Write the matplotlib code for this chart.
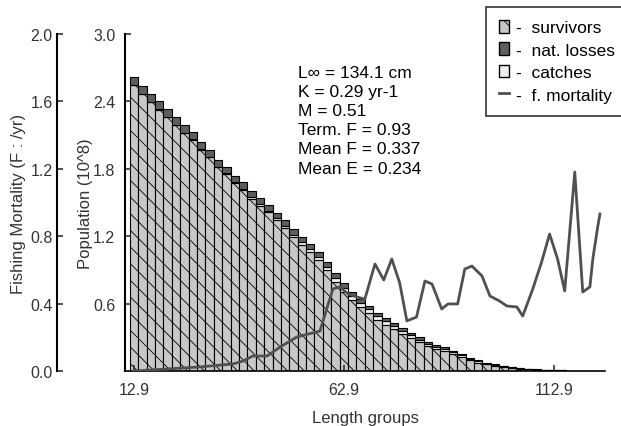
import numpy as np
import matplotlib
matplotlib.use("Agg")
import matplotlib.pyplot as plt
import matplotlib.patches as mpatches
from matplotlib.lines import Line2D

plt.rcParams['font.family'] = ['Liberation Sans', 'DejaVu Sans']
plt.rcParams['hatch.linewidth'] = 0.6

# length classes (cm), 2 cm bins
length = [12.9 + 2 * i for i in range(52)]

# population (10^8) per class
survivors = [2.544, 2.465, 2.396, 2.327, 2.257, 2.189, 2.119, 2.060, 1.971, 1.901,
             1.812, 1.752, 1.673, 1.613, 1.533, 1.472, 1.412, 1.341, 1.271, 1.190,
             1.120, 1.059, 0.989, 0.898, 0.795, 0.704, 0.628, 0.572, 0.515, 0.458,
             0.412, 0.375, 0.329, 0.293, 0.257, 0.221, 0.194, 0.178, 0.151, 0.125,
             0.098, 0.075, 0.058, 0.045, 0.035, 0.027, 0.021, 0.015, 0.010, 0.008,
             0.005, 0.005]
catches = [0.001, 0.001, 0.002, 0.002, 0.003, 0.003, 0.004, 0.004, 0.005, 0.006,
           0.007, 0.008, 0.009, 0.010, 0.012, 0.014, 0.016, 0.018, 0.020, 0.022,
           0.024, 0.026, 0.028, 0.030, 0.035, 0.038, 0.036, 0.034, 0.033, 0.032,
           0.030, 0.029, 0.027, 0.025, 0.023, 0.021, 0.019, 0.017, 0.015, 0.013,
           0.011, 0.010, 0.008, 0.007, 0.006, 0.005, 0.004, 0.003, 0.003, 0.002,
           0.002, 0.001]
nat_losses = [0.075, 0.074, 0.072, 0.071, 0.070, 0.068, 0.067, 0.066, 0.064, 0.063,
              0.061, 0.060, 0.058, 0.057, 0.055, 0.054, 0.052, 0.051, 0.049, 0.048,
              0.046, 0.045, 0.043, 0.042, 0.040, 0.038, 0.036, 0.034, 0.032, 0.030,
              0.028, 0.026, 0.024, 0.022, 0.020, 0.018, 0.017, 0.015, 0.014, 0.012,
              0.011, 0.010, 0.009, 0.008, 0.007, 0.006, 0.005, 0.004, 0.004, 0.003,
              0.003, 0.002]

# fishing mortality curve (F /yr)
f_len = [12.9, 28.6, 36.5, 38.9, 41.2, 44.6, 47.7, 51.7, 57.2, 58.8, 60.3, 61.9,
         63.6, 66.0, 67.9, 70.3, 72.4, 74.3, 76.2, 77.9, 80.2, 82.2, 83.9, 86.2,
         87.7, 90.0, 91.7, 93.4, 95.8, 97.7, 100.0, 101.7, 104.1, 105.5, 107.9,
         110.0, 111.9, 113.8, 115.5, 117.9, 119.8, 121.5, 122.2, 123.4, 123.9]
f_mort = [0.00, 0.024, 0.042, 0.059, 0.089, 0.089, 0.142, 0.202, 0.237, 0.368,
          0.487, 0.499, 0.463, 0.439, 0.427, 0.635, 0.540, 0.665, 0.522, 0.297,
          0.320, 0.534, 0.516, 0.368, 0.398, 0.398, 0.605, 0.623, 0.564, 0.445,
          0.415, 0.386, 0.380, 0.326, 0.487, 0.647, 0.813, 0.665, 0.475, 1.181,
          0.469, 0.499, 0.665, 0.861, 0.932]

params = ["L\u221e = 134.1 cm", "K = 0.29 yr-1", "M = 0.51", "Term. F = 0.93",
          "Mean F = 0.337", "Mean E = 0.234"]

fig = plt.figure(figsize=(6.21, 4.27), dpi=100)
ax = fig.add_axes([125 / 621, 55 / 427, 480 / 621, 337 / 427])

surv_c = '#c8c8c8'
catch_c = '#efefef'
nat_c = '#5e5e5e'
bot2 = np.array(survivors) + np.array(catches)
ax.bar(length, survivors, width=2, color=surv_c, edgecolor='black', hatch='\\\\',
       linewidth=0.8)
ax.bar(length, catches, width=2, bottom=survivors, color=catch_c, edgecolor='black',
       linewidth=0.8)
ax.bar(length, nat_losses, width=2, bottom=bot2, color=nat_c, edgecolor='black',
       linewidth=0.8)

ax.set_xlim(10.76, 125.1)
ax.set_ylim(0, 3.0)
ax.set_xticks([12.9, 62.9, 112.9])
ax.set_xticklabels(['12.9', '62.9', '112.9'])
ax.set_yticks([0.6, 1.2, 1.8, 2.4, 3.0])
ax.set_yticklabels(['0.6', '1.2', '1.8', '2.4', '3.0'])
for s in ['top', 'right']:
    ax.spines[s].set_visible(False)
ax.spines['left'].set_linewidth(1.5)
ax.spines['bottom'].set_linewidth(1.2)
ax.tick_params(axis='both', direction='in', length=4, width=1.2, labelsize=11.5,
               colors='#333333')
ax.tick_params(axis='y', pad=7)
ax.tick_params(axis='x', pad=8)
ax.set_xlabel('Length groups', fontsize=12, color='#333333', labelpad=9)
ax.set_ylabel('Population (10^8)', fontsize=12, color='#333333')
ax.yaxis.set_label_coords(-32 / 480, 0.5)

ax2 = ax.twinx()
ax2.plot(f_len, f_mort, color='#505050', lw=2)
ax2.set_ylim(0, 2.0)
ax2.yaxis.set_ticks_position('left')
ax2.yaxis.set_label_position('left')
ax2.spines['left'].set_position(('axes', -68 / 480))
ax2.spines['left'].set_visible(True)
ax2.spines['left'].set_linewidth(1.5)
for s in ['top', 'right', 'bottom']:
    ax2.spines[s].set_visible(False)
ax2.set_yticks([0.0, 0.4, 0.8, 1.2, 1.6, 2.0])
ax2.set_yticklabels(['0.0', '0.4', '0.8', '1.2', '1.6', '2.0'])
ax2.tick_params(axis='y', direction='in', length=4, width=1.2, labelsize=11.5,
                colors='#333333', pad=3)
ax2.set_ylabel('Fishing Mortality (F : /yr)', fontsize=12, color='#333333')
ax2.yaxis.set_label_coords(-99 / 480, 0.5)

for i, t in enumerate(params):
    fig.text(298 / 621, 1 - (73 + 19.2 * i) / 427, t, fontsize=12.5, va='center',
             ha='left', color='black')

handles = [mpatches.Patch(facecolor=surv_c, edgecolor='black', hatch='\\\\'),
           mpatches.Patch(facecolor=nat_c, edgecolor='black'),
           mpatches.Patch(facecolor=catch_c, edgecolor='black'),
           Line2D([0], [0], color='#505050', lw=2)]
labels = ['-  survivors', '-  nat. losses', '-  catches', '-  f. mortality']
leg = fig.legend(handles, labels, loc='upper left', bbox_to_anchor=(486 / 621, 1 - 8 / 427),
                 fontsize=12.5, frameon=True, fancybox=False, edgecolor='black',
                 handlelength=0.6, handleheight=0.75, handletextpad=0.4,
                 labelspacing=0.4, borderpad=0.75, borderaxespad=0)
leg.get_frame().set_linewidth(1.2)

fig.savefig('out.png', dpi=100)
